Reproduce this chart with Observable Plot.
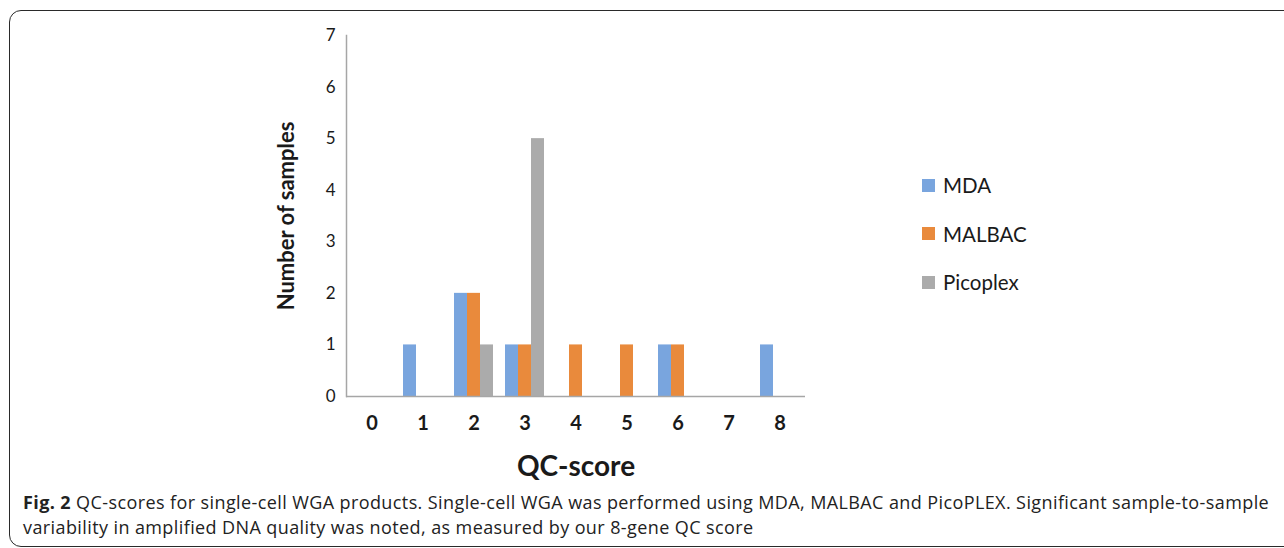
<!DOCTYPE html>
<html>
<head>
<meta charset="utf-8">
<script src="https://cdn.jsdelivr.net/npm/d3@7"></script>
<script src="https://cdn.jsdelivr.net/npm/@observablehq/plot@0.6"></script>
<style>
  html, body { margin: 0; padding: 0; background: #fff; }
  #page { position: relative; width: 1284px; height: 548px; overflow: hidden; }
  #border {
    position: absolute; left: 9px; top: 10px; width: 1320px; height: 537px;
    border: 1.5px solid #2a2a2a; border-radius: 12px; box-sizing: border-box;
  }
  #chart { position: absolute; left: 0; top: 0; }
  #chart g[aria-label="y-axis label"] text { font-size: 22px; font-weight: bold; }
  #chart g[aria-label="fx-axis label"] text { font-size: 28px; font-weight: bold; }
  #legend { position: absolute; left: 922px; top: 161px; font-family: Lato, sans-serif; font-size: 20.5px; color: #1a1a1a; }
  #legend .row { display: flex; align-items: center; height: 48.5px; }
  #legend .sw { width: 13px; height: 13px; margin-right: 8px; }
  #caption {
    position: absolute; left: 23px; top: 490px; font-family: "Open Sans", sans-serif;
    font-size: 18px; line-height: 24.5px; letter-spacing: 0.4px; color: #222; white-space: nowrap;
  }
</style>
</head>
<body>
<div id="page">
  <div id="border"></div>
  <div id="chart"></div>
  <div id="legend"></div>
  <div id="caption"><b>Fig. 2</b> QC-scores for single-cell WGA products. Single-cell WGA was performed using MDA, MALBAC and PicoPLEX. Significant sample-to-sample<br>variability in amplified DNA quality was noted, as measured by our 8-gene QC score</div>
</div>
<script>
// QC-score categories and the number of samples per amplification method
const scores = ["0", "1", "2", "3", "4", "5", "6", "7", "8"];
const methods = ["MDA", "MALBAC", "Picoplex"];
const mdaCounts = [0, 1, 2, 1, 0, 0, 1, 0, 1];
const malbacCounts = [0, 0, 2, 1, 1, 1, 1, 0, 0];
const picoplexCounts = [0, 0, 1, 5, 0, 0, 0, 0, 0];
const methodColors = ["#79a5de", "#e98a3c", "#ababab"];
const yTicks = [0, 1, 2, 3, 4, 5, 6, 7];

const countsByMethod = [mdaCounts, malbacCounts, picoplexCounts];
const rows = scores.flatMap((score, i) =>
  methods.map((method, k) => ({score, method, count: countsByMethod[k][i]}))
);

const chart = Plot.plot({
  width: 860,
  height: 490,
  marginLeft: 343,
  marginRight: 53,
  marginTop: 35,
  marginBottom: 94,
  style: {fontFamily: "Lato, sans-serif", color: "#1a1a1a", background: "transparent"},
  fx: {domain: scores, padding: 0},
  x: {domain: methods, paddingInner: 0, paddingOuter: 0.34, axis: null},
  y: {domain: [0, 7]},
  color: {domain: methods, range: methodColors},
  marks: [
    Plot.barY(rows, {fx: "score", x: "method", y: "count", fill: "method"}),
    Plot.ruleY([0], {stroke: "#a6a6a6", strokeWidth: 1.5}),
    Plot.frame({anchor: "left", facetAnchor: "left", stroke: "#a6a6a6", strokeWidth: 1.5}),
    Plot.axisY({
      ticks: yTicks, tickFormat: d3.format("d"), tickSize: 0, tickPadding: 11, fontSize: 17,
      label: "Number of samples", labelAnchor: "center", labelArrow: "none", labelOffset: 68
    }),
    Plot.axisFx({
      anchor: "bottom", tickSize: 0, tickPadding: 19, fontSize: 20, fontWeight: "bold",
      label: "QC-score", labelAnchor: "center", labelArrow: "none", labelOffset: 79
    })
  ]
});
document.getElementById("chart").append(chart);

// Legend built from the plot's own colour scale
const color = chart.scale("color");
const legend = document.getElementById("legend");
color.domain.forEach((m, i) => {
  const row = document.createElement("div");
  row.className = "row";
  const sw = document.createElement("span");
  sw.className = "sw";
  sw.style.background = color.range[i];
  const label = document.createElement("span");
  label.textContent = m;
  row.append(sw, label);
  legend.append(row);
});
</script>
</body>
</html>
